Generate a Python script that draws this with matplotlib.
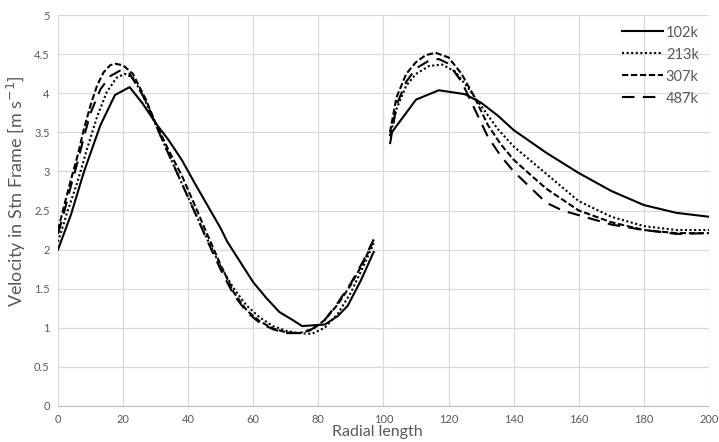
import numpy as np
import matplotlib
matplotlib.use("Agg")
import matplotlib.pyplot as plt
from matplotlib.ticker import FuncFormatter, MultipleLocator

plt.rcParams['font.family'] = ['Lato', 'DejaVu Sans']

GAP = np.nan  # break between inner and outer passage

# 102k
x_102k = [0, 4, 8, 13, 17.5, 22, 26, 30, 34, 38, 42, 46, 50, 52, 56, 60, 64, 68, 72, 75, 82, 86, 89, 93, 97,
          99.5,
          102, 110, 117, 125, 130, 135, 140, 150, 160, 170, 180, 190, 200]
v_102k = [2.0, 2.45, 3.0, 3.59, 3.98, 4.08, 3.87, 3.62, 3.4, 3.15, 2.85, 2.56, 2.27, 2.1, 1.84, 1.58, 1.38, 1.2, 1.1, 1.02, 1.04, 1.15, 1.28, 1.6, 1.97,
          GAP,
          3.47, 3.92, 4.04, 3.99, 3.88, 3.72, 3.53, 3.24, 2.98, 2.75, 2.57, 2.47, 2.42]

# 213k
x_213k = [0, 3, 6, 9, 12, 15, 18, 20.5, 23, 26, 30, 34, 38, 42, 46, 50, 54, 58, 62, 66, 70, 74, 78, 82, 86, 90, 94, 97,
          99.5,
          102, 104, 107, 110, 114, 118, 122, 126, 130, 135, 140, 150, 160, 170, 180, 190, 200]
v_213k = [2.1, 2.5, 2.87, 3.3, 3.7, 4.02, 4.2, 4.25, 4.2, 3.98, 3.6, 3.22, 2.85, 2.48, 2.12, 1.78, 1.5, 1.28, 1.13, 1.02, 0.96, 0.93, 0.92, 1.0, 1.18, 1.45, 1.8, 2.08,
          GAP,
          3.45, 3.8, 4.1, 4.25, 4.35, 4.37, 4.28, 4.07, 3.84, 3.55, 3.32, 2.97, 2.62, 2.42, 2.3, 2.25, 2.25]

# 307k
x_307k = [0, 2, 4, 6, 8, 10, 12, 14, 16, 17.5, 20, 23, 27, 30, 34, 38, 42, 46, 50, 54, 58, 62, 66, 70, 74, 78, 82, 86, 90, 94, 97,
          99.5,
          102, 104, 107, 110, 113, 116, 120, 124, 128, 132, 136, 140, 144, 150, 160, 170, 180, 190, 200]
v_307k = [2.25, 2.58, 2.9, 3.2, 3.55, 3.85, 4.1, 4.27, 4.36, 4.38, 4.36, 4.25, 3.92, 3.62, 3.27, 2.95, 2.57, 2.18, 1.8, 1.45, 1.22, 1.08, 0.99, 0.94, 0.93, 0.97, 1.1, 1.3, 1.55, 1.85, 2.12,
          GAP,
          3.5, 3.95, 4.25, 4.4, 4.49, 4.52, 4.46, 4.25, 3.95, 3.6, 3.35, 3.15, 3.0, 2.78, 2.5, 2.35, 2.25, 2.21, 2.21]

# 487k
x_487k = [0, 2, 4, 6, 8, 10, 13, 16, 19, 22, 25, 27, 30, 34, 38, 42, 46, 50, 54, 58, 62, 66, 70, 74, 78, 82, 86, 90, 94, 97,
          99.5,
          102, 104, 107, 110, 114, 117, 120, 124, 128, 132, 136, 140, 150, 155, 160, 170, 180, 190, 200]
v_487k = [2.2, 2.5, 2.82, 3.12, 3.45, 3.75, 4.05, 4.22, 4.29, 4.25, 4.05, 3.9, 3.6, 3.22, 2.85, 2.48, 2.1, 1.74, 1.42, 1.2, 1.06, 0.98, 0.93, 0.93, 0.98, 1.1, 1.32, 1.57, 1.87, 2.13,
          GAP,
          3.35, 3.85, 4.15, 4.32, 4.42, 4.44, 4.38, 4.15, 3.8, 3.45, 3.2, 3.0, 2.6, 2.5, 2.44, 2.32, 2.25, 2.2, 2.21]

series = [
    ("102k", x_102k, v_102k, "-"),
    ("213k", x_213k, v_213k, (0, (1, 1.2))),
    ("307k", x_307k, v_307k, (0, (3, 1.3))),
    ("487k", x_487k, v_487k, (0, (6, 4))),
]

GREY = "#595959"

fig = plt.figure(figsize=(7.19, 4.42), dpi=100)
ax = fig.add_axes([0.0807, 0.0821, 0.9053, 0.8833])

for name, xs, ys, ls in series:
    ax.plot(xs, ys, color="black", linestyle=ls, linewidth=1.5, label=name)

ax.set_xlim(0, 200)
ax.set_ylim(0, 5)
ax.xaxis.set_major_locator(MultipleLocator(20))
ax.yaxis.set_major_locator(MultipleLocator(0.5))
ax.yaxis.set_major_formatter(FuncFormatter(lambda v, p: f"{v:g}"))
ax.grid(True, color="#d9d9d9", linewidth=0.9)
ax.set_axisbelow(True)
for s in ("top", "right", "left"):
    ax.spines[s].set_visible(False)
ax.spines["bottom"].set_color("#bfbfbf")
ax.tick_params(axis="both", length=0, labelsize=8, colors=GREY, pad=6)

ax.set_xlabel("Radial length", fontsize=11.5, color=GREY)
ax.xaxis.set_label_coords(0.49, -0.049)
ax.set_ylabel("Velocity in Stn Frame [m s$^{-1}$]", fontsize=13, color=GREY)
ax.yaxis.set_label_coords(-0.046, 0.55)

leg = ax.legend(loc="upper right", frameon=False, fontsize=10.5, handlelength=2.8,
                handletextpad=0.2, labelspacing=0.55, borderaxespad=0.3)
for t in leg.get_texts():
    t.set_color(GREY)

fig.savefig("out.png", dpi=100)
